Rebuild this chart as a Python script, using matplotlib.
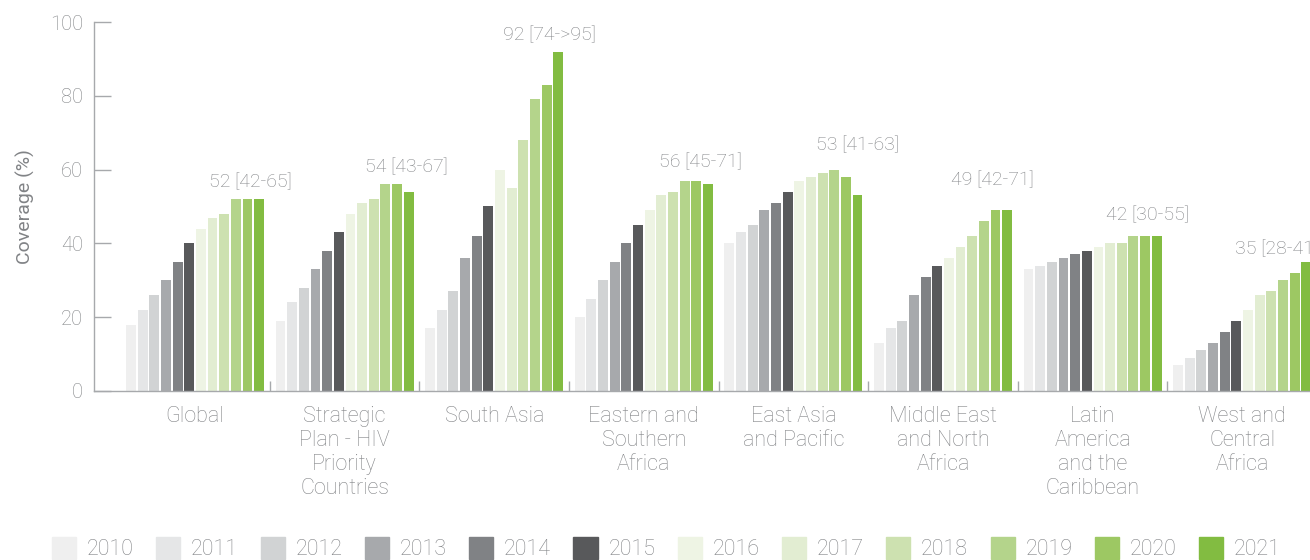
"""Grouped bar chart: coverage by region, 2010-2021."""

import matplotlib

matplotlib.use("Agg", force=True)
import matplotlib.pyplot as plt
import numpy as np
from matplotlib.patches import Rectangle

regions = [
    "Global",
    "Strategic\nPlan - HIV\nPriority\nCountries",
    "South Asia",
    "Eastern and\nSouthern\nAfrica",
    "East Asia\nand Pacific",
    "Middle East\nand North\nAfrica",
    "Latin\nAmerica\nand the\nCaribbean",
    "West and\nCentral\nAfrica",
]
years = ["2010", "2011", "2012", "2013", "2014", "2015",
         "2016", "2017", "2018", "2019", "2020", "2021"]

global_cov = [18, 22, 26, 30, 35, 40, 44, 47, 48, 52, 52, 52]
strategic_cov = [19, 24, 28, 33, 38, 43, 48, 51, 52, 56, 56, 54]
south_asia_cov = [17, 22, 27, 36, 42, 50, 60, 55, 68, 79, 83, 92]
esa_cov = [20, 25, 30, 35, 40, 45, 49, 53, 54, 57, 57, 56]
eap_cov = [40, 43, 45, 49, 51, 54, 57, 58, 59, 60, 58, 53]
mena_cov = [13, 17, 19, 26, 31, 34, 36, 39, 42, 46, 49, 49]
lac_cov = [33, 34, 35, 36, 37, 38, 39, 40, 40, 42, 42, 42]
wca_cov = [7, 9, 11, 13, 16, 19, 22, 26, 27, 30, 32, 35]

labels_2021 = ["52 [42-65]", "54 [43-67]", "92 [74->95]", "56 [45-71]",
               "53 [41-63]", "49 [42-71]", "42 [30-55]", "35 [28-41]"]

colors = ["#efefef", "#e5e6e7", "#d1d3d4", "#a7a9ac", "#808285", "#58595b",
          "#eef4e4", "#e2edd2", "#cde1b0", "#b4d48b", "#9dc863", "#82bc41"]

# annotation placement (data coords), hand-tuned to the original layout
label_x = [0.37, 0.41, 0.37, 0.38, 0.43, 0.33, 0.37, 0.23]
label_y = [56.5, 60.5, 96.5, 62.0, 66.5, 57.0, 47.5, 38.5]

text_gray = "#818386"
axis_gray = "#a7a9ac"

plt.rcParams["font.family"] = ["Roboto", "DejaVu Sans"]
plt.rcParams["font.weight"] = "light"

values = np.array([global_cov, strategic_cov, south_asia_cov, esa_cov,
                   eap_cov, mena_cov, lac_cov, wca_cov])

fig = plt.figure(figsize=(13.1, 5.6), dpi=100)
ax = fig.add_axes([0.0718, 0.3018, 1 - 0.0718, 0.6589])

n_years = len(years)
slot = 0.935 / n_years
bar_w = slot * 0.85
x = np.arange(len(regions))
for j in range(n_years):
    offs = (j - (n_years - 1) / 2) * slot
    ax.bar(x + offs, values[:, j], width=bar_w, color=colors[j], label=years[j])

for i, txt in enumerate(labels_2021):
    ax.text(i + label_x[i], label_y[i], txt, ha="center", va="center",
            fontsize=14, color=text_gray, fontweight="light")

ax.set_xlim(-0.675, 7.453)
ax.set_ylim(0, 100)
ax.set_yticks([0, 20, 40, 60, 80, 100])
ax.set_xticks(x)
ax.set_xticklabels(regions, linespacing=1.19)
ax.set_xticks(np.arange(0.5, 7, 1), minor=True)
ax.tick_params(axis="x", which="major", length=0, pad=11, labelsize=15.5,
               labelcolor=text_gray)
ax.tick_params(axis="x", which="minor", direction="in", length=7,
               color=axis_gray, width=1)
ax.tick_params(axis="y", direction="in", length=12, width=1, color=axis_gray,
               labelsize=14.5, labelcolor=text_gray, pad=8)
ax.set_ylabel("Coverage (%)", fontsize=14, color=text_gray, labelpad=11)

for side in ["top", "right"]:
    ax.spines[side].set_visible(False)
for side in ["left", "bottom"]:
    ax.spines[side].set_color(axis_gray)
    ax.spines[side].set_linewidth(1)

handles = [Rectangle((0, 0), 1, 1, color=c) for c in colors]
fig.legend(handles, years, loc="center left", bbox_to_anchor=(52 / 1310, 0.02),
           ncol=n_years, frameon=False, fontsize=15.5, handlelength=1.12,
           handleheight=1.2, handletextpad=0.5, columnspacing=1.04,
           borderpad=0, borderaxespad=0, labelcolor=text_gray)

fig.savefig("out.png", dpi=100)
plt.close(fig)
